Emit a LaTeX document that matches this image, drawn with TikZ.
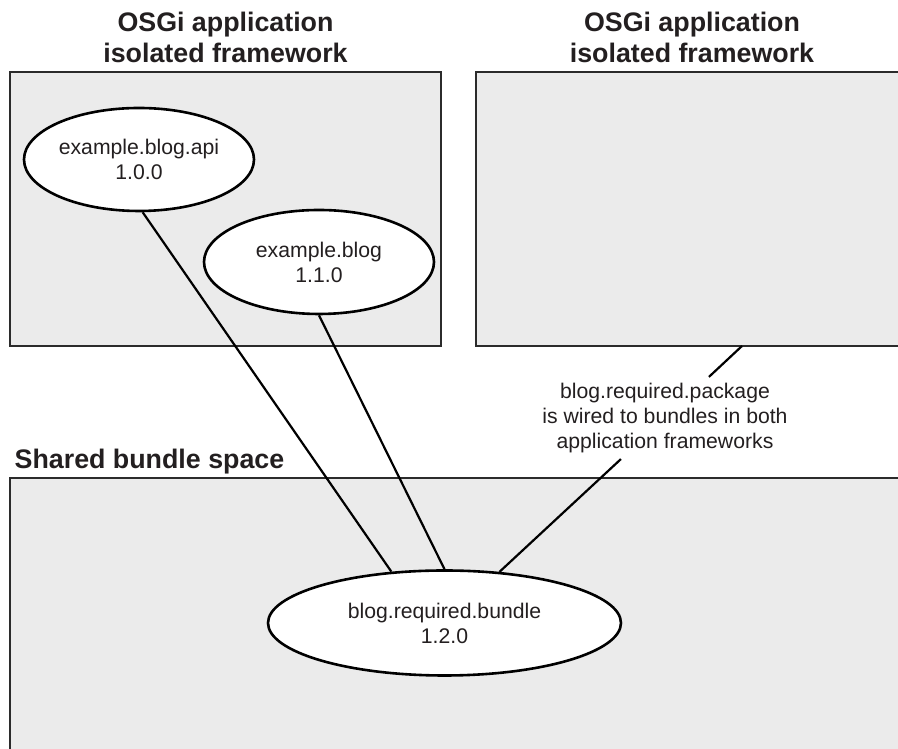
\documentclass[tikz,border=0pt]{standalone}
\usepackage{fontspec}
\setmainfont{Liberation Sans}
\usetikzlibrary{shapes.geometric}
\definecolor{boxgray}{HTML}{EBEBEB}
\definecolor{ink}{HTML}{231F20}
\definecolor{edge}{HTML}{2B2B2B}
\begin{document}
\begin{tikzpicture}[x=1pt,y=1pt,
  frame/.style={draw=edge, line width=2.6pt, fill=boxgray},
  bundle/.style={ellipse, draw=black, line width=2.6pt, fill=white, inner sep=0pt,
    font=\fontsize{21.2}{25}\selectfont, text=ink, align=center},
  title/.style={font=\bfseries\fontsize{26.8}{31}\selectfont, text=ink, inner sep=0pt},
  wire/.style={draw=black, line width=2.2pt},
  note/.style={font=\fontsize{21.2}{25}\selectfont, text=ink, align=center,
    inner xsep=4pt, inner ysep=6pt}]
\useasboundingbox (0,0) rectangle (898,749);
\clip (0,0) rectangle (898,749);
\fill[white] (0,0) rectangle (898,749);

% boxes
\draw[frame] (10,677) rectangle (441,403);
\draw[frame] (476,677) rectangle (912,403);
\draw[frame] (10,271) rectangle (912,-12);

% titles
\node[title, anchor=base] (tla) at (225.5,717.3) {OSGi application};
\node[title, anchor=base] (tlb) at (225.5,686.3) {isolated framework};
\node[title, anchor=base] (tra) at (692,717.3) {OSGi application};
\node[title, anchor=base] (trb) at (692,686.3) {isolated framework};
\node[title, anchor=base west] (shared) at (14.5,280) {Shared bundle space};

% bundles
\node[bundle, minimum width=230pt, minimum height=103pt] (api) at (139,589.5) {example.blog.api\\1.0.0};
\node[bundle, minimum width=230pt, minimum height=104pt] (blog) at (319,487) {example.blog\\1.1.0};
\node[bundle, minimum width=353pt, minimum height=105pt] (req) at (444.5,126) {blog.required.bundle\\1.2.0};

% label
\node[note] (note) at (665,331) {blog.required.package\\is wired to bundles in both\\application frameworks};
\coordinate (rb) at (742,403);

% wires
\draw[wire] (api.-86) -- (req.136);
\draw[wire] (blog.south) -- (req.north);
\draw[wire] (rb) -- (note) -- (req);
\end{tikzpicture}
\end{document}
